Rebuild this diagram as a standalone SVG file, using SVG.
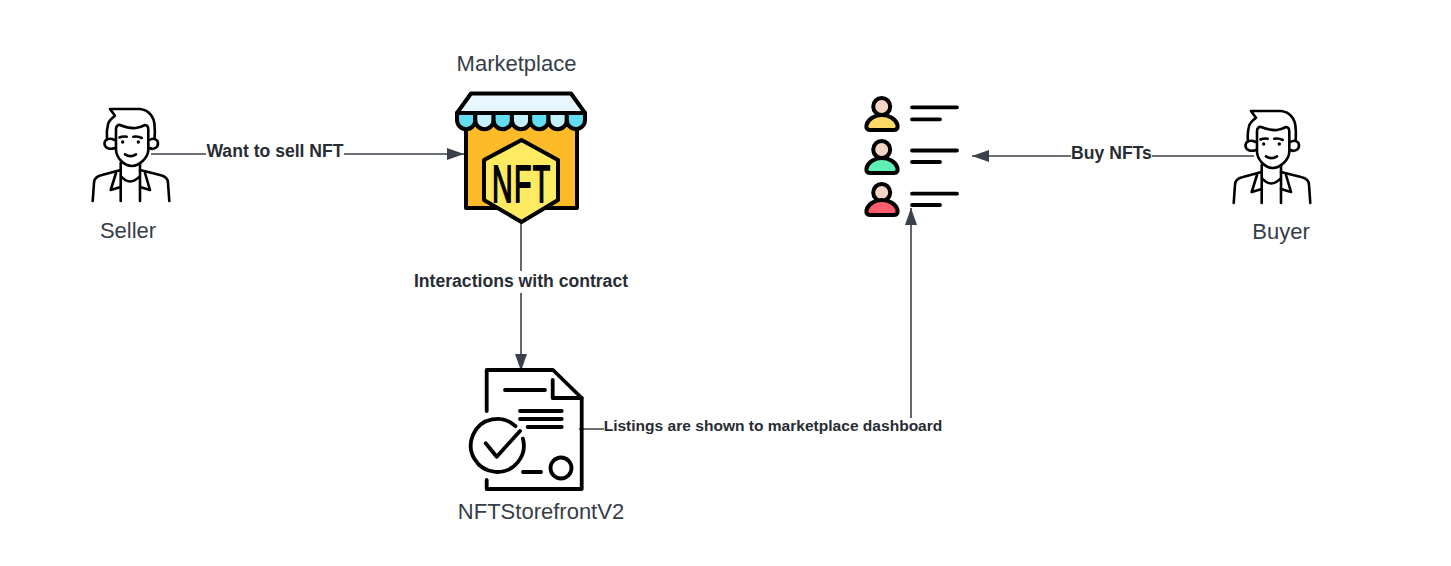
<svg xmlns="http://www.w3.org/2000/svg" width="1451" height="566" viewBox="0 0 1451 566">
<style>
text{font-family:"Liberation Sans",Arial,sans-serif}
.t{font-size:22px;fill:#363d48;text-anchor:middle}
.l{font-size:17.6px;font-weight:700;fill:#282c33;text-anchor:middle}
.c{fill:none;stroke:#3a414a;stroke-width:1.6}
.p{fill:none;stroke:#000;stroke-width:2.6;stroke-linecap:round;stroke-linejoin:round}
.k{stroke:#000;stroke-width:4;stroke-linecap:round;stroke-linejoin:round}
.d{fill:none;stroke:#000;stroke-width:3.800;stroke-linecap:round;stroke-linejoin:round}
</style>
<defs>
<marker id="a" markerUnits="userSpaceOnUse" markerWidth="18" markerHeight="14" refX="17" refY="6" orient="auto"><path d="M0 0L17 6L0 12Z" fill="#3a414a"/></marker>
<g id="person" class="p">
<path d="M107 139C106 131 107 128 108.300 123.300C109.500 120 112 118 115 115.700L110 109H140C149 110 154 117 154.500 125C155 130 155 135 154.500 139"/>
<path d="M116 138V129C116 126 118 124.500 120 125C125 127 131 128.500 136 128C140 127.500 143 126 145 125C147 125 148.300 127 148.300 130V150C148 158 139 166 132 166C124 166 116.500 158 116 150Z"/>
<path d="M115 148C110 150 104.500 148 104.500 143.500C104.500 139 110 137.500 114.500 140M149.500 148C153 150 158 148 158 143.500C158 139 153 137.500 149.500 140"/>
<circle cx="122.700" cy="142" r="1.700" fill="#000" stroke="none"/><circle cx="138.300" cy="142" r="1.700" fill="#000" stroke="none"/>
<path d="M119.500 137.500Q123 136 126.700 136.800M133.300 136.800Q138 136 141.700 138M125 154.300Q130.500 158 136 154.300"/>
<path d="M120.700 163V201M140 163V201M120.700 176Q130 187 140 176"/>
<path d="M92.700 201L94 183C94 178 97 176 102 175L120.700 170M169.300 201L168 183C168 178 165 176 160 175L140 170"/>
<path d="M116 173L110.700 190L120.700 187M145 173L150 190L140 187"/>
</g>
</defs>
<g id="connectors">
<path class="c" d="M151 154H464" marker-end="url(#a)"/>
<path class="c" d="M521 222V371" marker-end="url(#a)"/>
<path class="c" d="M579 429H911V208" marker-end="url(#a)"/>
<path class="c" d="M1254 156H972" marker-end="url(#a)"/>
</g>
<g id="seller">
<use href="#person"/>
<text class="t" x="128" y="237.700">Seller</text>
</g>
<g id="marketplace">
<text class="t" x="516.500" y="70.700">Marketplace</text>
<rect class="k" x="466" y="125" width="111" height="83" fill="#fdbb2a"/>
<path class="k" d="M471 93.500H571L585 113H457Z" fill="#e8f7fd"/>
<path class="k" d="M457 113H475.300V120A9 9 0 0 1 457 120Z" fill="#62dcf0"/>
<path class="k" d="M475.300 113H493.600V120A9 9 0 0 1 475.300 120Z" fill="#c4f1fd"/>
<path class="k" d="M493.600 113H511.900V120A9 9 0 0 1 493.600 120Z" fill="#62dcf0"/>
<path class="k" d="M511.900 113H530.200V120A9 9 0 0 1 511.900 120Z" fill="#c4f1fd"/>
<path class="k" d="M530.200 113H548.500V120A9 9 0 0 1 530.200 120Z" fill="#62dcf0"/>
<path class="k" d="M548.500 113H566.800V120A9 9 0 0 1 548.500 120Z" fill="#c4f1fd"/>
<path class="k" d="M566.800 113H585V120A9 9 0 0 1 566.800 120Z" fill="#62dcf0"/>
<path class="k" d="M521.500 140L558 160V200L521.500 222L484 200V160Z" fill="#ffeb62"/>
<text transform="translate(492 202) scale(.55 1)" x="0 40 74" y="0" font-size="52" fill="#000" stroke="#000" stroke-width="1.800" stroke-linejoin="round">NFT</text>
</g>
<g id="contract">
<path class="d" d="M486.700 411V370H553L581.700 398V489H486.700V480"/>
<path class="d" d="M552.700 380V398H581.700"/>
<path class="d" d="M505 390H545M520 411H561.700M520 419H561.700M527.700 427H561.700M523 472H541"/>
<path class="d" d="M515.500 426.200A26.500 26.500 0 1 0 522.900 438.600"/>
<path class="d" d="M485.700 443.300L496.700 456.700L520 431"/>
<circle class="d" cx="561" cy="468" r="10.500"/>
<text class="t" x="541" y="518.700">NFTStorefrontV2</text>
</g>
<g id="listings">
<circle class="k" cx="881.700" cy="106.500" r="8.500" fill="#f5d6c2"/>
<path class="k" d="M866.500 125C868 119 875 115 881.700 115C889 115 896 119 897.500 125C898 128 897 130 894 130H870C867 130 866 128 866.500 125Z" fill="#ffd966"/>
<path class="d" d="M912 107.300H957M912 119.300H940"/>
<circle class="k" cx="881.700" cy="149.500" r="8.500" fill="#f5d6c2"/>
<path class="k" d="M866.500 168C868 162 875 158 881.700 158C889 158 896 162 897.500 168C898 171 897 173 894 173H870C867 173 866 171 866.500 168Z" fill="#5ff0b5"/>
<path class="d" d="M912 150.500H957M912 162H940"/>
<circle class="k" cx="881.700" cy="192.500" r="8.500" fill="#f5d6c2"/>
<path class="k" d="M866.500 210C868 204 875 200 881.700 200C889 200 896 204 897.500 210C898 213 897 215 894 215H870C867 215 866 213 866.500 210Z" fill="#ff5c6c"/>
<path class="d" d="M912 193.700H957M912 205H940"/>
</g>
<g id="buyer">
<use href="#person" transform="translate(1141 2)"/>
<text class="t" x="1281" y="238.700">Buyer</text>
</g>
<g id="labels">
<rect x="206" y="141" width="138" height="21" fill="#fff"/>
<text class="l" x="275" y="157.400">Want to sell NFT</text>
<rect x="413" y="271" width="216" height="22" fill="#fff"/>
<text class="l" x="521" y="287.400">Interactions with contract</text>
<rect x="604" y="418" width="338" height="18" fill="#fff"/>
<text class="l" x="773" y="431" style="font-size:15.550px">Listings are shown to marketplace dashboard</text>
<rect x="1071" y="144" width="81" height="20" fill="#fff"/>
<text class="l" x="1111.500" y="159.400">Buy NFTs</text>
</g>
</svg>
